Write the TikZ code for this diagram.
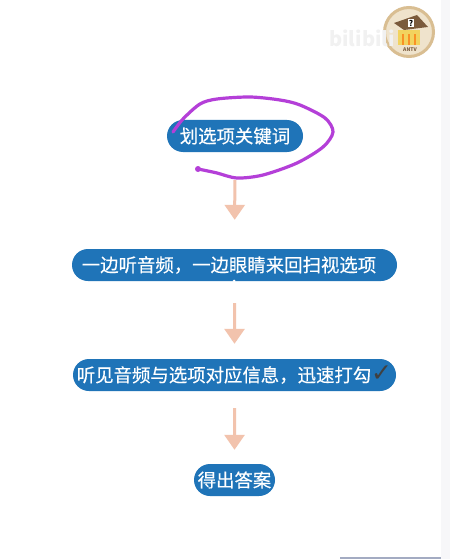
\documentclass[tikz,border=0pt]{standalone}
\usepackage{fontspec}
\setmainfont{Noto Sans CJK SC}
\newfontfamily\boxfont[FakeBold = 0.35]{Noto Sans CJK SC}
\newfontfamily\symfont{DejaVu Sans}
\usetikzlibrary{arrows.meta, shapes.misc}

\definecolor{boxblue}{HTML}{1F74B8}
\definecolor{arrowpink}{HTML}{F2C3AD}
\definecolor{penpurple}{HTML}{B43FD8}
\definecolor{sidegrey}{HTML}{F7F7F9}
\definecolor{barblue}{HTML}{A3ABC2}
\definecolor{badgetan}{HTML}{D9BE92}
\definecolor{badgecream}{HTML}{EFE3CC}
\definecolor{roofbrown}{HTML}{7A5A3C}
\definecolor{cornyellow}{HTML}{F2D35E}
\definecolor{marktext}{HTML}{F1F1F1}

\tikzset{
	stepbox/.style = {rounded rectangle, fill = boxblue, text = white, inner sep = 0pt, minimum height = 32pt, font = \boxfont\fontsize{18.4}{20}\selectfont},
	flowarrow/.style = {line width = 3pt, draw = arrowpink, -{Triangle[width = 20pt, length = 15pt, fill = arrowpink]}}
}

\begin{document}
\begin{tikzpicture}[x = 1pt, y = -1pt]

	\useasboundingbox (0, 0) rectangle (450, 559);

	% Page edges

	\fill [white] (0, 0) rectangle (450, 559);
	\fill [sidegrey] (441, 0) rectangle (450, 559);
	\fill [barblue] (340, 557) rectangle (441, 559);

	% Badge

	\filldraw [line width = 3pt, draw = badgetan, fill = badgecream] (409, 32) circle (24.5);
	\fill [cornyellow] (398, 30) rectangle (420, 45);
	\foreach \x in {402, 408, 414}
	{
		\fill [orange!80!red, opacity = 0.6] (\x, 34) rectangle (\x + 2, 45);
	}
	\fill [roofbrown] (394, 23) -- (417, 15) -- (428, 27) -- (404, 30) -- cycle;
	\node [fill = white, inner sep = 1pt, font = \fontsize{8}{8}\selectfont\bfseries] (badge) at (411, 23) {?};
	\node [text = roofbrown, inner sep = 0pt, font = \fontsize{5}{5}\selectfont\bfseries] (badgename) at (410, 50) {ANTV};

	% Watermark

	\node [text = marktext, inner sep = 0pt, font = \fontsize{20}{20}\selectfont\bfseries] (mark) at (362, 38) {bilibili};

	% Steps

	\node [stepbox, minimum width = 136pt] (keywords) at (235, 136) {划选项关键词};
	\node [stepbox, minimum width = 325pt] (listen) at (234.5, 265) {一边听音频^^^^ff0c一边眼睛来回扫视选项\hspace*{11pt}};
	\node [stepbox, minimum width = 323pt] (tick) at (234.5, 375) {听见音频与选项对应信息^^^^ff0c迅速打勾{\symfont\fontsize{25}{25}\selectfont\textcolor{black!75}{✓}}};
	\node [stepbox, minimum width = 81pt] (answer) at (234.5, 480) {得出答案};
	\fill [white] (234, 281) circle (1.5);

	% Arrows

	\draw [flowarrow, shorten <= 28pt, shorten >= 29pt] (keywords) -- (listen);
	\draw [flowarrow, shorten <= 22pt, shorten >= 15pt] (listen) -- (tick);
	\draw [flowarrow, shorten <= 17pt, shorten >= 14pt] (tick) -- (answer);

	% Pen stroke round the first step

	\draw [line width = 3.2pt, draw = penpurple, line cap = round, line join = round] plot [smooth, tension = 0.5] coordinates {
		(173, 132) (183, 119) (200, 104) (217, 99) (250, 97) (280, 100) (300, 105) (325, 118) (333, 132)
		(323, 147) (297, 163) (263, 175) (237, 178) (217, 173) (203, 170) (198, 169)
	};
	\fill [penpurple] (198, 169) circle (3);

\end{tikzpicture}
\end{document}
